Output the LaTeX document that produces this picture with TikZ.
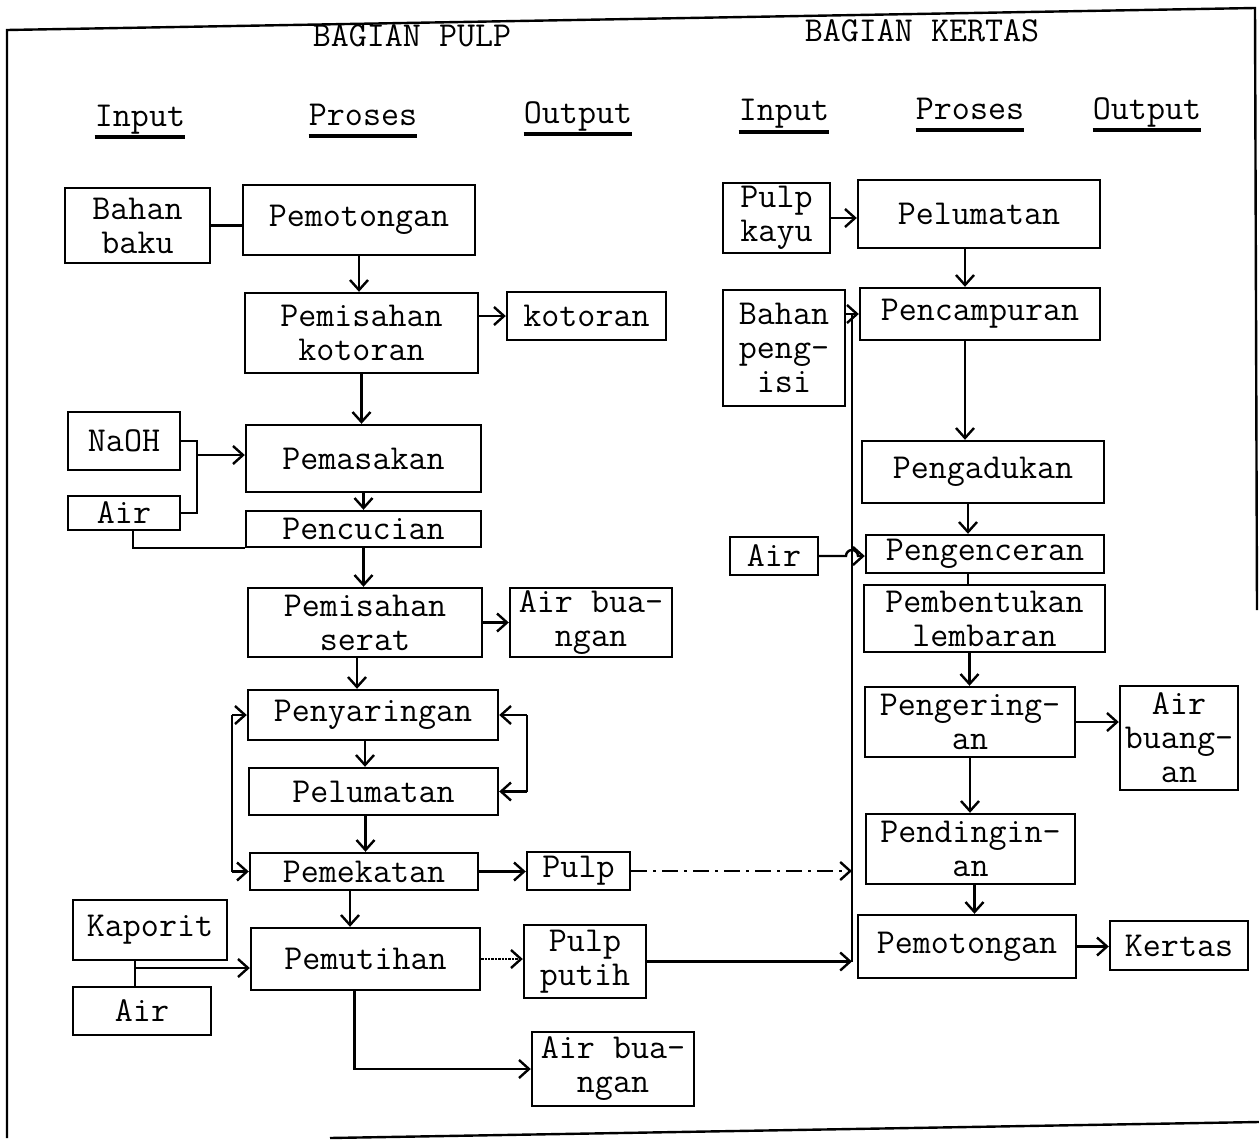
\documentclass[tikz,border=0pt]{standalone}
\usetikzlibrary{arrows.meta}
\newcommand\tyfont{\ttfamily\fontsize{35}{34}\selectfont}
\newcommand\bx[6]{\node[box, minimum width={#4pt-#2pt}, minimum height={#5pt-#3pt}] (#1) at ({(#2+#4)/2},{(#3+#5)/2}) {#6};}
\begin{document}
\begin{tikzpicture}[x=1pt,y=-1pt,
  box/.style={draw, line width=2.4pt, inner sep=0pt, align=center, font=\tyfont},
  hdr/.style={inner sep=0pt, font=\tyfont},
  ln/.style={line width=2.4pt},
  arr/.style={line width=2.4pt, -{Straight Barb[length=10pt,width=18pt,line width=2.4pt]}},
  ul/.style={line width=3.5pt}]
\useasboundingbox (0,0) rectangle (1259,1140);
% frame
\draw[ln] (7,1138) -- (7,30) -- (1255,8) -- (1257,610);
\draw[ln] (330,1138) -- (1259,1122);
% headers
\node[hdr] (hp) at (412,36) {BAGIAN PULP};
\node[hdr] (hk) at (922,31) {BAGIAN KERTAS};
\node[hdr, anchor=base] (i1) at (140,126) {Input};
\node[hdr, anchor=base] (p1) at (363,125) {Proses};
\node[hdr, anchor=base] (o1) at (578,123) {Output};
\node[hdr, anchor=base] (i2) at (784,121) {Input};
\node[hdr, anchor=base] (p2) at (970,119) {Proses};
\node[hdr, anchor=base] (o2) at (1147,119) {Output};
\foreach \n in {i1,p1,o1,i2,p2,o2}
  \draw[ul] ([yshift=-11pt]\n.base west) -- ([yshift=-11pt]\n.base east);
% left boxes
\bx{bb}{65}{188}{210}{263}{Bahan\\baku}
\bx{pot}{243}{185}{475}{255}{Pemotongan}
\bx{pk}{245}{293}{478}{373}{Pemisahan\\kotoran}
\bx{kot}{507}{292}{666}{340}{kotoran}
\bx{naoh}{68}{412}{180}{470}{NaOH}
\bx{airA}{68}{496}{180}{530}{Air}
\bx{mas}{246}{425}{481}{492}{Pemasakan}
\bx{cuci}{246}{511}{481}{547}{Pencucian}
\bx{ps}{248}{588}{482}{657}{Pemisahan\\serat}
\bx{abA}{510}{588}{672}{657}{Air bua-\\ngan}
\bx{saring}{248}{690}{498}{740}{Penyaringan}
\bx{lumA}{249}{768}{498}{815}{Pelumatan}
\bx{pek}{250}{853}{478}{890}{Pemekatan}
\bx{pulp}{527}{852}{630}{890}{Pulp}
\bx{put}{251}{928}{480}{990}{Pemutihan}
\bx{kap}{73}{900}{227}{960}{Kaporit}
\bx{airB}{73}{987}{211}{1035}{Air}
\bx{pp}{524}{925}{646}{998}{Pulp\\putih}
\bx{abB}{532}{1032}{694}{1106}{Air bua-\\ngan}
% right boxes
\bx{pkayu}{723}{183}{830}{253}{Pulp\\kayu}
\bx{lumB}{858}{180}{1100}{248}{Pelumatan}
\bx{camp}{860}{288}{1100}{340}{Pencampuran}
\bx{bp}{723}{290}{845}{406}{Bahan\\peng-\\isi}
\bx{aduk}{862}{441}{1104}{503}{Pengadukan}
\bx{airC}{730}{537}{818}{575}{Air}
\bx{encer}{866}{535}{1104}{573}{Pengenceran}
\bx{bentuk}{864}{585}{1105}{652}{Pembentukan\\lembaran}
\bx{kering}{865}{687}{1075}{757}{Pengering-\\an}
\bx{abC}{1120}{686}{1238}{790}{Air\\buang-\\an}
\bx{dingin}{866}{814}{1075}{884}{Pendingin-\\an}
\bx{potB}{858}{915}{1076}{978}{Pemotongan}
\bx{kertas}{1110}{921}{1248}{970}{Kertas}
% coordinates
\coordinate (j) at (197,455);
\coordinate (r1) at (527,715);
\coordinate (r2) at (527,791.5);
\coordinate (l1) at (232,715);
\coordinate (l2) at (232,871.5);
\coordinate (k1) at (135,968);
\coordinate (bt) at (852,314);
\coordinate (bb2) at (852,961.5);
% left connectors
\draw[ln] (bb.east) -- (bb.east -| pot.west);
\draw[arr] (pot.south) -- (pot.south |- pk.north);
\draw[arr] (kot.west -| pk.east) -- (kot.west);
\draw[arr] (pk.south) -- (pk.south |- mas.north);
\draw[ln] (naoh.east) -| (j);
\draw[ln] (airA.east) -| (j);
\draw[arr] (j) -- (j -| mas.west);
\draw[arr] (mas.south) -- (mas.south |- cuci.north);
\draw[ln] ([xshift=9pt]airA.south) |- (cuci.south west);
\draw[arr] (cuci.south) -- (cuci.south |- ps.north);
\draw[arr] (ps.east) -- (ps.east -| abA.west);
\draw[arr] ([xshift=-8pt]ps.south) -- ([xshift=-8pt]ps.south |- saring.north);
\draw[arr] ([xshift=-8pt]saring.south) -- ([xshift=-8pt]saring.south |- lumA.north);
\draw[arr] ([xshift=-8pt]lumA.south) -- ([xshift=-8pt]lumA.south |- pek.north);
\draw[ln] (r1) -- (r2);
\draw[arr] (r1) -- (saring.east);
\draw[arr] (r2) -- (lumA.east);
\draw[ln] (l1) -- (l2);
\draw[arr] (l1) -- (saring.west);
\draw[arr] (l2) -- (pek.west);
\draw[arr] (pek.east) -- (pek.east -| pulp.west);
\draw[arr, dash pattern=on 16pt off 6pt on 3pt off 6pt] (pulp.east) -- (pulp.east -| bt);
\draw[arr] ([xshift=-14pt]pek.south) -- ([xshift=-14pt]pek.south |- put.north);
\draw[ln] (kap.south -| k1) -- (airB.north -| k1);
\draw[arr] (k1) -- (k1 -| put.west);
\draw[arr, densely dotted] (put.east) -- (put.east -| pp.west);
\draw[arr] (pp.east) -- (bb2);
\draw[arr] ([xshift=-11pt]put.south) |- (abB.west);
% right connectors
\draw[arr] (pkayu.east) -- (pkayu.east -| lumB.west);
\draw[arr] ([xshift=-14pt]lumB.south) -- ([xshift=-14pt]lumB.south |- camp.north);
\draw[arr] (camp.west -| bp.east) -- (camp.west);
\draw[ln] (bt) -- (bb2);
\draw[arr] ([xshift=-15pt]camp.south) -- ([xshift=-15pt]camp.south |- aduk.north);
\draw[arr] ([xshift=-15pt]aduk.south) -- ([xshift=-15pt]aduk.south |- encer.north);
\draw[ln] ([xshift=-17pt]encer.south) -- ([xshift=-17pt]encer.south |- bentuk.north);
\draw[arr] ([xshift=-15pt]bentuk.south) -- ([xshift=-15pt]bentuk.south |- kering.north);
\draw[arr] (kering.east) -- (kering.east -| abC.west);
\draw[arr] (kering.south) -- (kering.south |- dingin.north);
\draw[arr] ([xshift=4pt]dingin.south) -- ([xshift=4pt]dingin.south |- potB.north);
\draw[arr] (potB.east) -- (potB.east -| kertas.west);
\draw[arr] (airC.east) -- (846,556) arc[start angle=180, end angle=360, radius=6] -- (encer.west |- airC.east);
\end{tikzpicture}
\end{document}
